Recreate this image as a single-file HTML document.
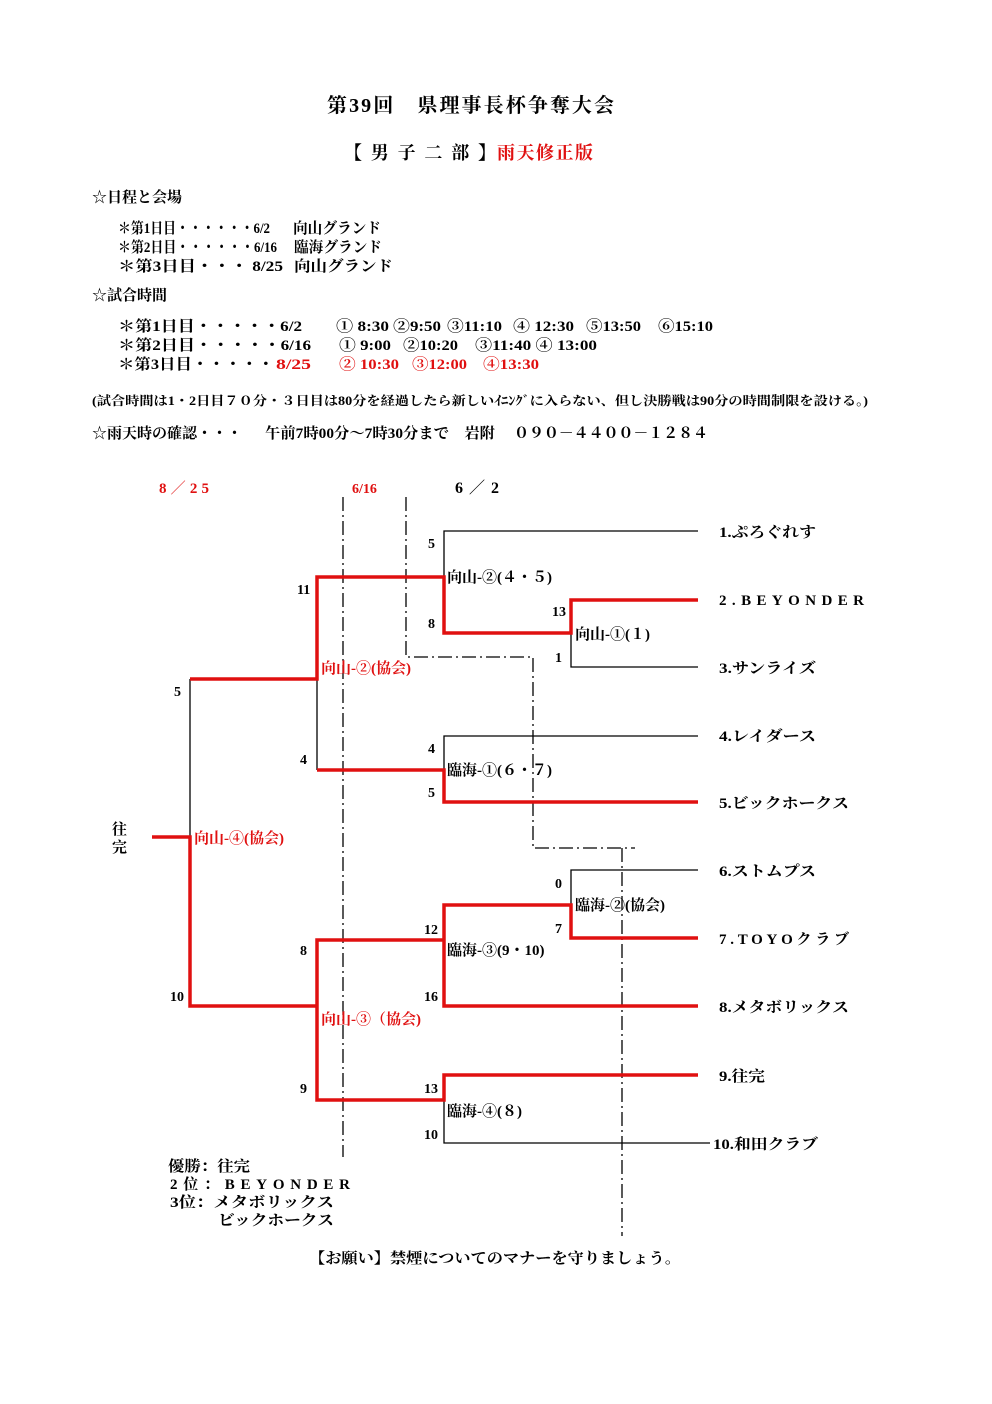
<!DOCTYPE html>
<html><head><meta charset="utf-8"><style>
html,body{margin:0;padding:0;background:#fff;}
svg{display:block;}
text{font-family:"Liberation Serif","Noto Serif CJK SC","Noto Serif CJK JP",serif;font-weight:bold;fill:#000;}
.r{fill:#e01010;}
</style></head><body>
<svg width="992" height="1404" viewBox="0 0 992 1404" xmlns="http://www.w3.org/2000/svg">
<text x="327" y="112" font-size="20" textLength="287">第39回　県理事長杯争奪大会</text>
<text x="344" y="159" font-size="18" textLength="152">【 男 子 二 部 】</text>
<text x="497" y="159" font-size="18" class="r" textLength="96">雨天修正版</text>

<text x="92" y="202" font-size="15">☆日程と会場</text>
<g font-size="15">
<text x="118" y="233" textLength="152" lengthAdjust="spacingAndGlyphs">＊第1日目・・・・・・6/2</text>
<text x="293" y="233" textLength="88" lengthAdjust="spacingAndGlyphs">向山グランド</text>
<text x="118" y="252" textLength="159" lengthAdjust="spacingAndGlyphs">＊第2日目・・・・・・6/16</text>
<text x="294" y="252" textLength="88" lengthAdjust="spacingAndGlyphs">臨海グランド</text>
<text x="118" y="271" textLength="165" lengthAdjust="spacingAndGlyphs">＊第3日目・・・ 8/25</text>
<text x="294" y="271" textLength="99" lengthAdjust="spacingAndGlyphs">向山グランド</text>
</g>
<text x="92" y="300" font-size="15">☆試合時間</text>
<g font-size="15">
<text x="118" y="331" textLength="184" lengthAdjust="spacingAndGlyphs">＊第1日目・・・・・6/2</text>
<text x="336" y="331" textLength="53" lengthAdjust="spacingAndGlyphs">① 8:30</text>
<text x="393" y="331" textLength="48" lengthAdjust="spacingAndGlyphs">②9:50</text>
<text x="447" y="331" textLength="55" lengthAdjust="spacingAndGlyphs">③11:10</text>
<text x="513" y="331" textLength="61" lengthAdjust="spacingAndGlyphs">④ 12:30</text>
<text x="586" y="331" textLength="55" lengthAdjust="spacingAndGlyphs">⑤13:50</text>
<text x="658" y="331" textLength="55" lengthAdjust="spacingAndGlyphs">⑥15:10</text>

<text x="118" y="350" textLength="193" lengthAdjust="spacingAndGlyphs">＊第2日目・・・・・6/16</text>
<text x="339" y="350" textLength="52" lengthAdjust="spacingAndGlyphs">① 9:00</text>
<text x="403" y="350" textLength="55" lengthAdjust="spacingAndGlyphs">②10:20</text>
<text x="475" y="350" textLength="122" lengthAdjust="spacingAndGlyphs">③11:40 ④ 13:00</text>

<text x="118" y="369" textLength="156" lengthAdjust="spacingAndGlyphs">＊第3日目・・・・・</text>
<text x="276" y="369" class="r" textLength="35" lengthAdjust="spacingAndGlyphs">8/25</text>
<text x="339" y="369" class="r" textLength="60" lengthAdjust="spacingAndGlyphs">② 10:30</text>
<text x="412" y="369" class="r" textLength="55" lengthAdjust="spacingAndGlyphs">③12:00</text>
<text x="483" y="369" class="r" textLength="56" lengthAdjust="spacingAndGlyphs">④13:30</text>
</g>
<text x="92" y="405" font-size="12.5" textLength="776" lengthAdjust="spacingAndGlyphs">(試合時間は1・2日目７０分・３日目は80分を経過したら新しいｲﾆﾝｸﾞに入らない、但し決勝戦は90分の時間制限を設ける。)</text>
<text x="92" y="438" font-size="15" textLength="150" lengthAdjust="spacingAndGlyphs">☆雨天時の確認・・・</text>
<text x="265" y="438" font-size="15" textLength="230" lengthAdjust="spacingAndGlyphs">午前7時00分～7時30分まで　岩附</text>
<text x="514" y="438" font-size="15" textLength="194">０９０－４４００－１２８４</text>

<text x="159" y="493" font-size="15" class="r" textLength="50">8／25</text>
<text x="352" y="493" font-size="14" class="r">6/16</text>
<text x="455" y="493" font-size="16" textLength="44">6／2</text>

<g fill="none" stroke="#000" stroke-width="1.3" stroke-dasharray="14,4,2,4">
<line x1="343" y1="497" x2="343" y2="1157"/>
<polyline points="406,497 406,657 533,657 533,848 635,848"/>
<line x1="622" y1="848" x2="622" y2="1236"/>
</g>

<g fill="none" stroke="#000" stroke-width="1.3">
<polyline points="698,531 444,531 444,577"/>
<polyline points="571,633 571,667 698,667"/>
<polyline points="698,736 444,736 444,770"/>
<polyline points="317,679 317,770"/>
<polyline points="190,679 190,837"/>
<polyline points="698,870 571,870 571,905"/>
<polyline points="444,1100 444,1143 710,1143"/>
</g>
<g fill="none" stroke="#e01010" stroke-width="3.5">
<polyline points="698,600 571,600 571,633 444,633 444,577 317,577 317,679 190,679"/>
<polyline points="698,802 444,802 444,770 317,770"/>
<polyline points="152,837 190,837 190,1006 317,1006"/>
<polyline points="698,938 571,938 571,905 444,905 444,1006 698,1006"/>
<polyline points="444,940 317,940 317,1100 444,1100 444,1075 698,1075"/>
</g>

<g font-size="14">
<text x="428" y="548">5</text><text x="428" y="628">8</text>
<text x="552" y="616">13</text><text x="555" y="662">1</text>
<text x="297" y="594">11</text><text x="300" y="764">4</text>
<text x="174" y="696">5</text><text x="170" y="1001">10</text>
<text x="428" y="753">4</text><text x="428" y="797">5</text>
<text x="555" y="888">0</text><text x="555" y="933">7</text>
<text x="424" y="934">12</text><text x="424" y="1001">16</text>
<text x="300" y="955">8</text><text x="300" y="1093">9</text>
<text x="424" y="1093">13</text><text x="424" y="1139">10</text>
</g>
<g font-size="15">
<text x="447" y="582">向山-②(４・５)</text>
<text x="575" y="639">向山-①(１)</text>
<text x="447" y="775">臨海-①(６・７)</text>
<text x="575" y="910">臨海-②(協会)</text>
<text x="447" y="955">臨海-③(9・10)</text>
<text x="447" y="1116">臨海-④(８)</text>
<text x="321" y="673" class="r">向山-②(協会)</text>
<text x="194" y="843" class="r">向山-④(協会)</text>
<text x="321" y="1024" class="r">向山-③（協会)</text>
<text x="112" y="834">往</text><text x="112" y="852">完</text>
</g>
<g font-size="15">
<text x="719" y="537" textLength="97" lengthAdjust="spacingAndGlyphs">1.ぷろぐれす</text>
<text x="719" y="605" textLength="145">2.BEYONDER</text>
<text x="719" y="673" textLength="97" lengthAdjust="spacingAndGlyphs">3.サンライズ</text>
<text x="719" y="741" textLength="97" lengthAdjust="spacingAndGlyphs">4.レイダース</text>
<text x="719" y="808" textLength="130" lengthAdjust="spacingAndGlyphs">5.ビックホークス</text>
<text x="719" y="876" textLength="97" lengthAdjust="spacingAndGlyphs">6.ストムプス</text>
<text x="719" y="944" textLength="130">7.TOYOクラブ</text>
<text x="719" y="1012" textLength="130" lengthAdjust="spacingAndGlyphs">8.メタボリックス</text>
<text x="719" y="1081" textLength="46" lengthAdjust="spacingAndGlyphs">9.往完</text>
<text x="713" y="1149" textLength="105" lengthAdjust="spacingAndGlyphs">10.和田クラブ</text>
</g>
<g font-size="15">
<text x="168" y="1171" textLength="82" lengthAdjust="spacingAndGlyphs">優勝：往完</text>
<text x="170" y="1189" textLength="180">2位：BEYONDER</text>
<text x="170" y="1207" textLength="164" lengthAdjust="spacingAndGlyphs">3位：メタボリックス</text>
<text x="218" y="1225" textLength="116" lengthAdjust="spacingAndGlyphs">ビックホークス</text>
<text x="309" y="1263" textLength="372" lengthAdjust="spacingAndGlyphs">【お願い】禁煙についてのマナーを守りましょう。</text>
</g>
</svg>
</body></html>
